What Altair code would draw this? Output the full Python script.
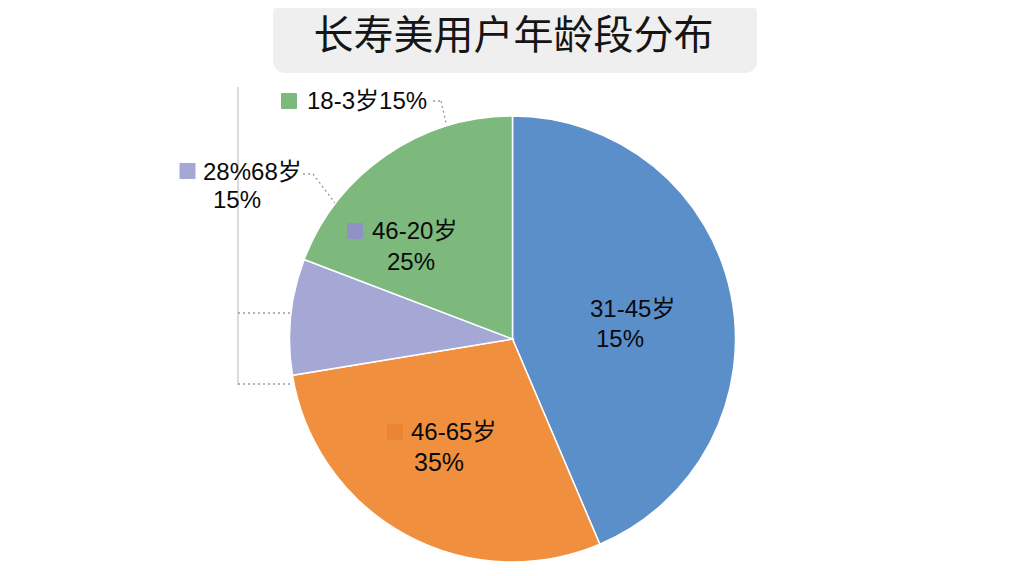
import altair as alt
import pandas as pd

# ---- data ----
segments = ["31-45岁", "46-65岁", "28%68岁", "18-3岁"]
shares = [43.6, 28.8, 8.4, 19.2]
seg_colors = ["#5b8fca", "#f0903f", "#a5a8d5", "#7db87d"]

title_text = "长寿美用户年龄段分布"
label_lines = {
    "top": "18-3岁15%",
    "left1": "28%68岁",
    "left2": "15%",
    "green1": "46-20岁",
    "green2": "25%",
    "blue1": "31-45岁",
    "blue2": "15%",
    "orange1": "46-65岁",
    "orange2": "35%",
}

W, H = 1008, 560
CX, CY, R = 504.5, 331, 223
FONT = "Liberation Sans, Arial, Noto Sans CJK SC"

pie_df = pd.DataFrame({"segment": segments, "share": shares, "order": list(range(len(segments)))})

pie = alt.Chart(pie_df).mark_arc(radius=R, stroke="white", strokeWidth=1.5).encode(
    theta=alt.Theta("share:Q", stack=True),
    order=alt.Order("order:Q"),
    color=alt.Color("segment:N", scale=alt.Scale(domain=segments, range=seg_colors), legend=None),
    x=alt.value(CX),
    y=alt.value(CY),
)

one = pd.DataFrame({"a": [0]})


def text(t, x, y, size=24, align="left", font=FONT, color="#0a0a0a"):
    return alt.Chart(one).mark_text(
        text=t, fontSize=size, align=align, baseline="middle", font=font, color=color
    ).encode(x=alt.value(x), y=alt.value(y))


def square(x, y, color, s=16):
    return alt.Chart(one).mark_rect(color=color, cornerRadius=1).encode(
        x=alt.value(x - s / 2), x2=alt.value(x + s / 2), y=alt.value(y - s / 2), y2=alt.value(y + s / 2)
    )


def seg(x1, y1, x2, y2, dash=True, color="#9a9a9a", w=1.3):
    kw = dict(color=color, strokeWidth=w)
    if dash:
        kw["strokeDash"] = [2, 3]
    return alt.Chart(one).mark_rule(**kw).encode(
        x=alt.value(x1), y=alt.value(y1), x2=alt.value(x2), y2=alt.value(y2)
    )


title_box = alt.Chart(one).mark_rect(color="#efefef", cornerRadius=12).encode(
    x=alt.value(265), x2=alt.value(749), y=alt.value(-6), y2=alt.value(65)
)
title = text(title_text, 505.5, 29, size=40, align="center", font="Noto Sans CJK SC", color="#151515")

lines = [
    seg(230, 79, 230, 377, dash=False, color="#cfcfcf", w=1.5),
    seg(230, 305, 300, 305),
    seg(230, 376, 282, 376),
    seg(425, 93, 433, 93),
    seg(433, 93, 439, 119),
    seg(295, 166, 305, 166),
    seg(305, 166, 330, 199),
]

labels = [
    square(281, 93, "#7db87d"),
    text(label_lines["top"], 299, 94),
    square(179.5, 163, "#a5a8d5"),
    text(label_lines["left1"], 195, 165),
    text(label_lines["left2"], 205, 193),
    square(347, 223, "#8f92c6"),
    text(label_lines["green1"], 364, 224),
    text(label_lines["green2"], 379, 255),
    text(label_lines["blue1"], 582, 302),
    text(label_lines["blue2"], 588, 332),
    square(387, 424, "#ec8532"),
    text(label_lines["orange1"], 403, 425),
    text(label_lines["orange2"], 406, 455, size=25),
]

chart = alt.layer(title_box, title, *lines, pie, *labels).properties(
    width=W, height=H, padding=0, autosize="none"
).configure_view(stroke=None)

chart.save("out.html", embed_options={"renderer": "svg", "actions": False})
